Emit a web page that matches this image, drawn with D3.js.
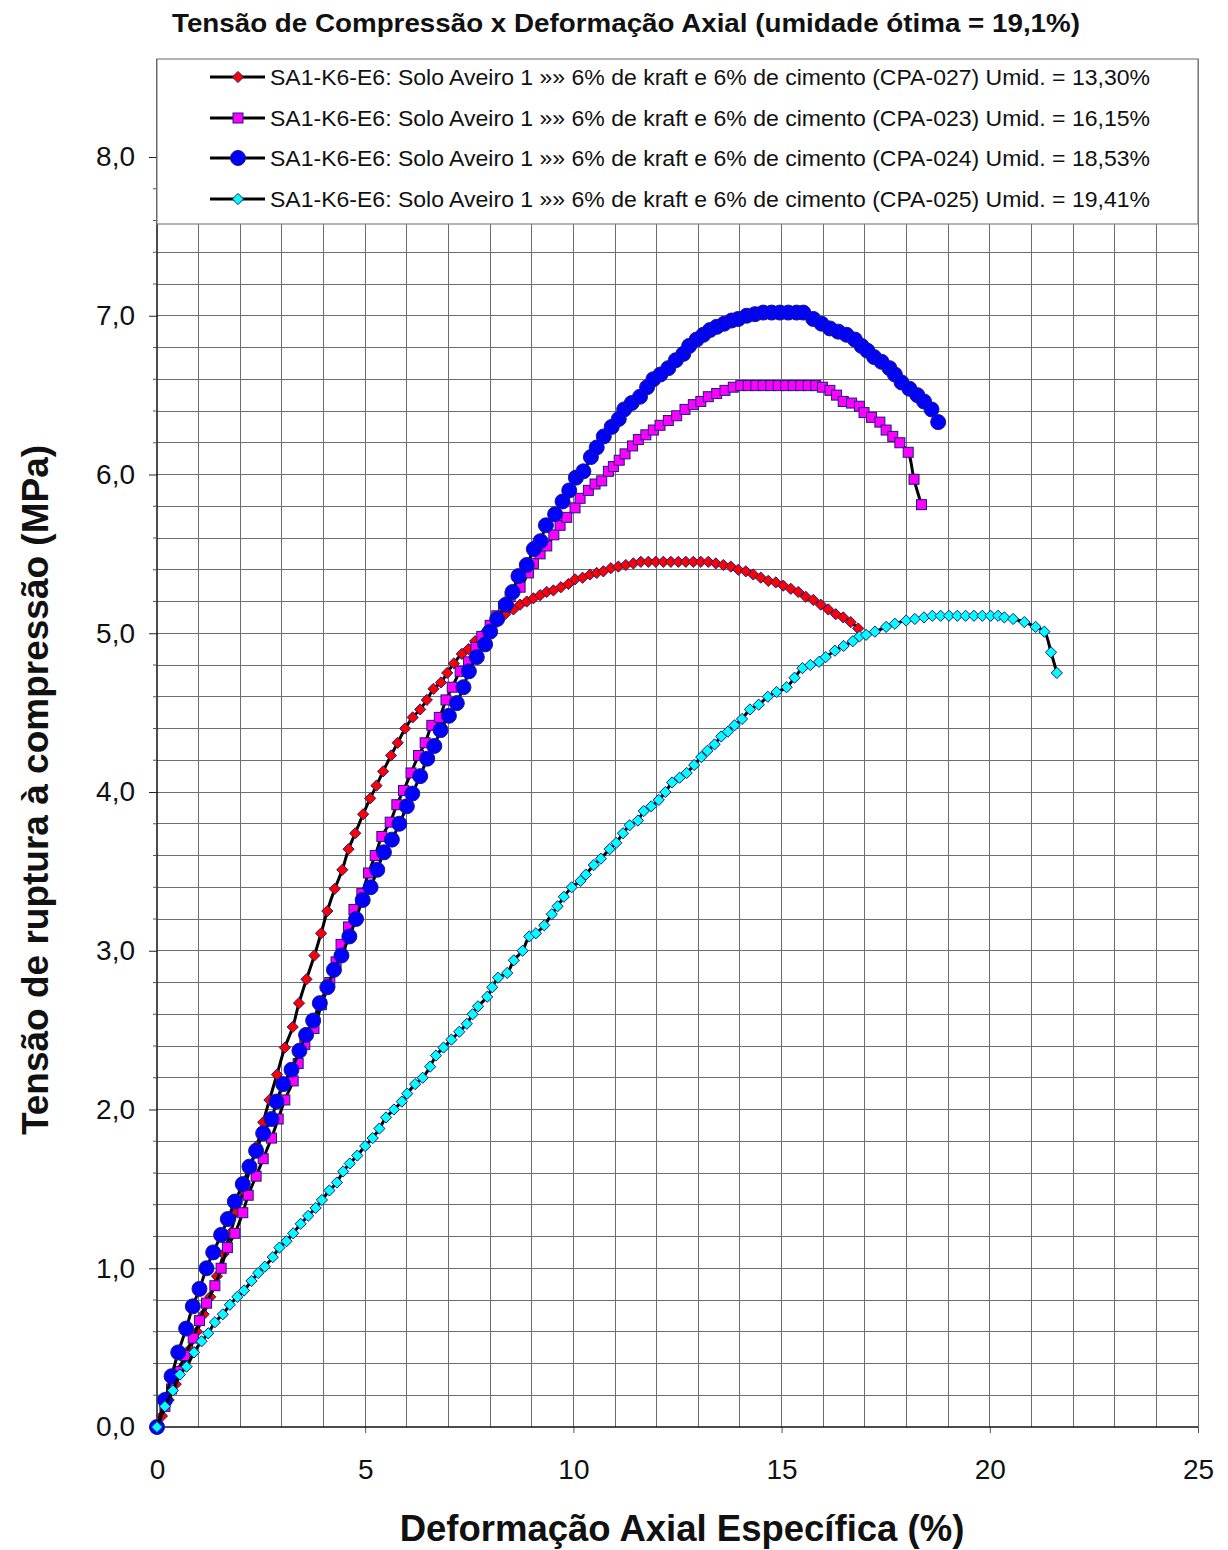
<!DOCTYPE html>
<html><head><meta charset="utf-8">
<script src="https://cdn.jsdelivr.net/npm/d3@7"></script>
<style>body{margin:0;background:#fff}</style>
</head><body>
<svg id="chart" width="1228" height="1550"></svg>
<script>
const chartTitle = "Tensão de Compressão x Deformação Axial (umidade ótima = 19,1%)";
const xAxisTitle = "Deformação Axial Específica (%)";
const yAxisTitle = "Tensão de ruptura à compressão (MPa)";
const seriesLabels = [
  "SA1-K6-E6: Solo Aveiro 1 »» 6% de kraft e 6% de cimento (CPA-027) Umid. = 13,30%",
  "SA1-K6-E6: Solo Aveiro 1 »» 6% de kraft e 6% de cimento (CPA-023) Umid. = 16,15%",
  "SA1-K6-E6: Solo Aveiro 1 »» 6% de kraft e 6% de cimento (CPA-024) Umid. = 18,53%",
  "SA1-K6-E6: Solo Aveiro 1 »» 6% de kraft e 6% de cimento (CPA-025) Umid. = 19,41%"
];
const xTickValues = [0, 5, 10, 15, 20, 25];
const xTickLabels = ["0", "5", "10", "15", "20", "25"];
const yTickValues = [0, 1, 2, 3, 4, 5, 6, 7, 8];
const yTickLabels = ["0,0", "1,0", "2,0", "3,0", "4,0", "5,0", "6,0", "7,0", "8,0"];

// CPA-027 (red diamonds)
const cpa027X = [0.00,0.12,0.28,0.45,0.62,0.79,0.96,1.12,1.28,1.44,1.60,1.76,1.92,2.08,2.24,2.40,2.55,2.70,2.88,3.07,3.26,3.41,3.59,3.78,3.94,4.09,4.27,4.45,4.60,4.76,4.95,5.12,5.27,5.43,5.62,5.78,5.96,6.14,6.32,6.48,6.64,6.82,6.97,7.13,7.32,7.48,7.64,7.82,7.96,8.16,8.36,8.56,8.72,8.88,9.04,9.20,9.36,9.52,9.70,9.88,10.04,10.22,10.40,10.56,10.72,10.90,11.08,11.26,11.44,11.62,11.80,11.98,12.16,12.34,12.52,12.70,12.88,13.06,13.24,13.42,13.60,13.78,13.96,14.14,14.32,14.50,14.68,14.86,15.04,15.22,15.40,15.58,15.76,15.94,16.12,16.30,16.48,16.66,16.84];
const cpa027Y = [0.00,0.07,0.17,0.27,0.38,0.49,0.60,0.71,0.82,0.95,1.09,1.22,1.36,1.49,1.63,1.77,1.92,2.06,2.22,2.39,2.52,2.67,2.82,2.97,3.11,3.25,3.39,3.51,3.64,3.74,3.86,3.96,4.04,4.13,4.23,4.31,4.40,4.47,4.52,4.58,4.65,4.69,4.75,4.81,4.87,4.90,4.95,4.99,5.03,5.07,5.12,5.15,5.18,5.20,5.22,5.24,5.26,5.27,5.29,5.31,5.34,5.35,5.37,5.38,5.39,5.41,5.42,5.43,5.44,5.45,5.45,5.45,5.45,5.45,5.45,5.45,5.45,5.45,5.45,5.44,5.43,5.42,5.40,5.39,5.37,5.35,5.33,5.32,5.30,5.28,5.26,5.23,5.21,5.18,5.15,5.12,5.10,5.07,5.03];

// CPA-023 (magenta squares)
const cpa023X = [0.00,0.19,0.35,0.51,0.67,0.87,1.02,1.19,1.39,1.54,1.69,1.87,2.06,2.19,2.38,2.55,2.75,2.91,3.07,3.27,3.39,3.55,3.77,3.95,4.15,4.30,4.42,4.60,4.73,4.92,5.08,5.24,5.40,5.60,5.76,5.92,6.10,6.28,6.44,6.60,6.78,6.94,7.09,7.28,7.48,7.66,7.80,8.00,8.16,8.32,8.48,8.72,8.92,9.04,9.20,9.36,9.53,9.68,9.84,10.04,10.16,10.36,10.52,10.68,10.84,10.96,11.10,11.24,11.42,11.56,11.74,11.92,12.08,12.28,12.48,12.68,12.88,13.06,13.24,13.44,13.64,13.84,14.02,14.20,14.38,14.56,14.74,14.92,15.10,15.28,15.46,15.64,15.82,15.98,16.16,16.32,16.48,16.68,16.87,16.98,17.16,17.36,17.51,17.67,17.84,18.04,18.18,18.36];
const cpa023Y = [0.00,0.13,0.24,0.35,0.45,0.56,0.67,0.78,0.89,1.00,1.13,1.22,1.35,1.46,1.58,1.69,1.82,1.94,2.06,2.18,2.29,2.41,2.51,2.66,2.80,2.93,3.04,3.15,3.26,3.36,3.49,3.60,3.72,3.81,3.92,4.01,4.12,4.23,4.31,4.42,4.47,4.58,4.66,4.76,4.82,4.91,4.98,5.05,5.11,5.17,5.23,5.29,5.38,5.44,5.50,5.55,5.62,5.68,5.73,5.79,5.85,5.90,5.94,5.96,6.02,6.05,6.09,6.13,6.18,6.22,6.25,6.28,6.31,6.34,6.37,6.41,6.44,6.46,6.49,6.51,6.53,6.55,6.56,6.56,6.56,6.56,6.56,6.56,6.56,6.56,6.56,6.56,6.56,6.55,6.53,6.50,6.46,6.45,6.43,6.39,6.36,6.33,6.28,6.24,6.20,6.14,5.97,5.81];

// CPA-024 (blue circles)
const cpa024X = [0.00,0.19,0.35,0.51,0.70,0.86,1.02,1.19,1.35,1.54,1.70,1.87,2.06,2.22,2.38,2.55,2.75,2.87,3.03,3.23,3.42,3.58,3.75,3.91,4.09,4.25,4.43,4.62,4.78,4.94,5.13,5.29,5.45,5.64,5.82,6.00,6.13,6.32,6.49,6.66,6.81,7.01,7.20,7.36,7.49,7.68,7.88,8.00,8.17,8.38,8.54,8.68,8.88,9.05,9.21,9.34,9.56,9.74,9.90,10.06,10.24,10.42,10.56,10.73,10.92,11.09,11.22,11.40,11.60,11.77,11.92,12.09,12.28,12.46,12.64,12.78,12.96,13.12,13.28,13.44,13.62,13.80,13.96,14.16,14.36,14.56,14.76,14.96,15.16,15.36,15.52,15.76,15.96,16.16,16.36,16.56,16.76,16.92,17.06,17.22,17.40,17.59,17.72,17.88,18.07,18.26,18.42,18.60,18.76];
const cpa024Y = [0.00,0.17,0.32,0.47,0.62,0.76,0.87,1.00,1.10,1.21,1.31,1.42,1.53,1.64,1.74,1.85,1.94,2.05,2.16,2.25,2.37,2.47,2.56,2.67,2.77,2.88,2.97,3.09,3.20,3.32,3.40,3.51,3.62,3.70,3.80,3.91,3.99,4.10,4.21,4.29,4.39,4.48,4.56,4.66,4.76,4.85,4.93,5.01,5.09,5.18,5.26,5.36,5.43,5.53,5.58,5.68,5.75,5.83,5.90,5.98,6.02,6.11,6.17,6.24,6.30,6.35,6.41,6.45,6.49,6.55,6.60,6.63,6.67,6.72,6.76,6.81,6.85,6.88,6.91,6.93,6.95,6.97,6.98,7.00,7.01,7.02,7.02,7.02,7.02,7.02,7.02,6.98,6.95,6.92,6.90,6.88,6.85,6.81,6.78,6.74,6.71,6.67,6.63,6.58,6.54,6.50,6.46,6.41,6.33];

// CPA-025 (cyan diamonds)
const cpa025X = [0.00,0.19,0.38,0.55,0.71,0.89,1.07,1.23,1.39,1.58,1.75,1.93,2.09,2.27,2.43,2.59,2.78,2.94,3.11,3.27,3.45,3.63,3.81,3.96,4.14,4.32,4.47,4.63,4.81,5.00,5.18,5.34,5.50,5.69,5.88,6.01,6.20,6.38,6.56,6.70,6.88,7.07,7.26,7.44,7.58,7.71,7.93,8.05,8.19,8.41,8.57,8.78,8.94,9.10,9.30,9.48,9.62,9.77,9.96,10.17,10.30,10.49,10.66,10.87,11.03,11.19,11.35,11.55,11.69,11.87,12.05,12.21,12.37,12.55,12.72,12.90,13.07,13.22,13.39,13.55,13.71,13.87,14.05,14.24,14.45,14.67,14.88,15.12,15.31,15.50,15.69,15.90,16.06,16.28,16.49,16.71,16.87,17.03,17.24,17.51,17.72,17.99,18.20,18.42,18.62,18.82,19.02,19.22,19.42,19.62,19.82,20.02,20.20,20.35,20.56,20.83,21.10,21.31,21.47,21.61];
const cpa025Y = [0.00,0.13,0.23,0.33,0.38,0.47,0.54,0.59,0.66,0.71,0.77,0.82,0.86,0.92,0.97,1.01,1.07,1.13,1.17,1.22,1.28,1.33,1.38,1.43,1.49,1.54,1.61,1.66,1.71,1.77,1.82,1.88,1.95,2.00,2.05,2.10,2.16,2.20,2.27,2.34,2.39,2.44,2.49,2.54,2.60,2.65,2.71,2.77,2.83,2.86,2.94,3.00,3.09,3.11,3.16,3.23,3.28,3.34,3.40,3.44,3.48,3.54,3.58,3.64,3.68,3.74,3.79,3.82,3.88,3.91,3.95,4.00,4.06,4.09,4.12,4.17,4.22,4.26,4.30,4.35,4.38,4.42,4.46,4.52,4.55,4.60,4.63,4.66,4.72,4.78,4.80,4.82,4.85,4.89,4.92,4.95,4.98,4.99,5.01,5.04,5.06,5.08,5.09,5.10,5.11,5.11,5.11,5.11,5.11,5.11,5.11,5.11,5.11,5.10,5.09,5.07,5.04,5.01,4.88,4.75];

const seriesXs = [cpa027X, cpa023X, cpa024X, cpa025X];
const seriesYs = [cpa027Y, cpa023Y, cpa024Y, cpa025Y];
const seriesFills = ["#ff0000", "#ff00ff", "#0000ff", "#00ffff"];
const seriesShapes = ["diamond", "square", "circle", "diamond"];

const svg = d3.select("#chart");
const W = 1228, H = 1550;
const plotLeft = 157, plotRight = 1198, plotTop = 59, plotBottom = 1427;
const x = d3.scaleLinear().domain([0, 25]).range([plotLeft, plotRight]);
const y = d3.scaleLinear().domain([0, 8]).range([plotBottom, 157]);
const font = "'Liberation Sans', Arial, sans-serif";

svg.append("rect").attr("width", W).attr("height", H).attr("fill", "#fff");

// grid
const grid = svg.append("g");
d3.range(1, 26).forEach(v => {
  grid.append("line").attr("x1", x(v)).attr("x2", x(v)).attr("y1", plotBottom).attr("y2", plotTop)
    .attr("stroke", "#6e6e6e").attr("stroke-width", 1).attr("shape-rendering", "crispEdges");
});
d3.range(1, 44).forEach(i => {
  const v = i * 0.2;
  grid.append("line").attr("x1", plotLeft).attr("x2", plotRight).attr("y1", y(v)).attr("y2", y(v))
    .attr("stroke", "#6e6e6e").attr("stroke-width", 1).attr("shape-rendering", "crispEdges");
});

// axes
const yAxis = d3.axisLeft(y).tickValues(yTickValues).tickFormat((d, i) => yTickLabels[i]).tickSize(8).tickPadding(14);
const yg = svg.append("g").attr("transform", `translate(${plotLeft},0)`).call(yAxis);
yg.select(".domain").remove();
yg.selectAll(".tick line").attr("stroke", "#222");
yg.selectAll("text").attr("font-family", font).attr("font-size", 28).attr("fill", "#111");
svg.append("line").attr("x1", plotLeft).attr("x2", plotLeft).attr("y1", plotBottom).attr("y2", plotTop)
  .attr("stroke", "#111").attr("stroke-width", 1.5);
d3.range(1, 40).filter(i => i % 5 !== 0).forEach(i => {
  svg.append("line").attr("x1", plotLeft - 4).attr("x2", plotLeft).attr("y1", y(i * 0.2)).attr("y2", y(i * 0.2))
    .attr("stroke", "#555");
});

const xAxis = d3.axisBottom(x).tickValues(xTickValues).tickFormat((d, i) => xTickLabels[i]).tickSize(6).tickPadding(26);
const xg = svg.append("g").attr("transform", `translate(0,${plotBottom})`).call(xAxis);
xg.select(".domain").remove();
xg.selectAll(".tick line").attr("stroke", "#555");
xg.selectAll("text").attr("font-family", font).attr("font-size", 28).attr("fill", "#111");
svg.append("line").attr("x1", plotLeft).attr("x2", plotRight).attr("y1", plotBottom).attr("y2", plotBottom)
  .attr("stroke", "#111").attr("stroke-width", 1.5);

// series
const line = d3.line().x(d => x(d[0])).y(d => y(d[1])).curve(d3.curveCatmullRom.alpha(0.5));
function drawMarker(g, shape, fill, cx, cy) {
  if (shape === "circle") {
    g.append("circle").attr("cx", cx).attr("cy", cy).attr("r", 7.5)
      .attr("fill", fill).attr("stroke", "#1a1a80").attr("stroke-width", 1);
  } else if (shape === "square") {
    g.append("rect").attr("x", cx - 5).attr("y", cy - 5).attr("width", 10).attr("height", 10)
      .attr("fill", fill).attr("stroke", "#1a1a80").attr("stroke-width", 1);
  } else {
    const r = 5.6;
    g.append("path").attr("d", `M${cx},${cy - r}L${cx + r},${cy}L${cx},${cy + r}L${cx - r},${cy}Z`)
      .attr("fill", fill).attr("stroke", "#1a1a80").attr("stroke-width", 1);
  }
}
seriesXs.forEach((xs, si) => {
  const pts = xs.map((v, i) => [v, seriesYs[si][i]]);
  const g = svg.append("g");
  g.append("path").attr("d", line(pts)).attr("fill", "none").attr("stroke", "#000").attr("stroke-width", 3);
  pts.forEach(p => drawMarker(g, seriesShapes[si], seriesFills[si], x(p[0]), y(p[1])));
});

// legend
const lg = svg.append("g");
lg.append("rect").attr("x", plotLeft).attr("y", plotTop).attr("width", plotRight - plotLeft).attr("height", 224 - plotTop)
  .attr("fill", "#fff").attr("stroke", "#808080").attr("stroke-width", 1.2);
const rowY = [77, 118, 158, 199];
seriesLabels.forEach((lab, i) => {
  lg.append("line").attr("x1", 210).attr("x2", 265).attr("y1", rowY[i]).attr("y2", rowY[i])
    .attr("stroke", "#000").attr("stroke-width", 3);
  drawMarker(lg, seriesShapes[i], seriesFills[i], 238, rowY[i]);
  lg.append("text").attr("x", 270).attr("y", rowY[i] + 8).attr("font-family", font)
    .attr("font-size", 22).attr("fill", "#111")
    .attr("textLength", 880).attr("lengthAdjust", "spacingAndGlyphs").text(lab);
});

// titles
svg.append("text").attr("x", 626).attr("y", 32).attr("text-anchor", "middle")
  .attr("font-family", font).attr("font-weight", "bold").attr("font-size", 25).attr("fill", "#111")
  .attr("textLength", 908).attr("lengthAdjust", "spacingAndGlyphs").text(chartTitle);
svg.append("text").attr("x", 682).attr("y", 1541).attr("text-anchor", "middle")
  .attr("font-family", font).attr("font-weight", "bold").attr("font-size", 36.5).attr("fill", "#111").text(xAxisTitle);
svg.append("text").attr("transform", "translate(48,790) rotate(-90)").attr("text-anchor", "middle")
  .attr("font-family", font).attr("font-weight", "bold").attr("font-size", 37).attr("fill", "#111").text(yAxisTitle);
</script>
</body></html>
